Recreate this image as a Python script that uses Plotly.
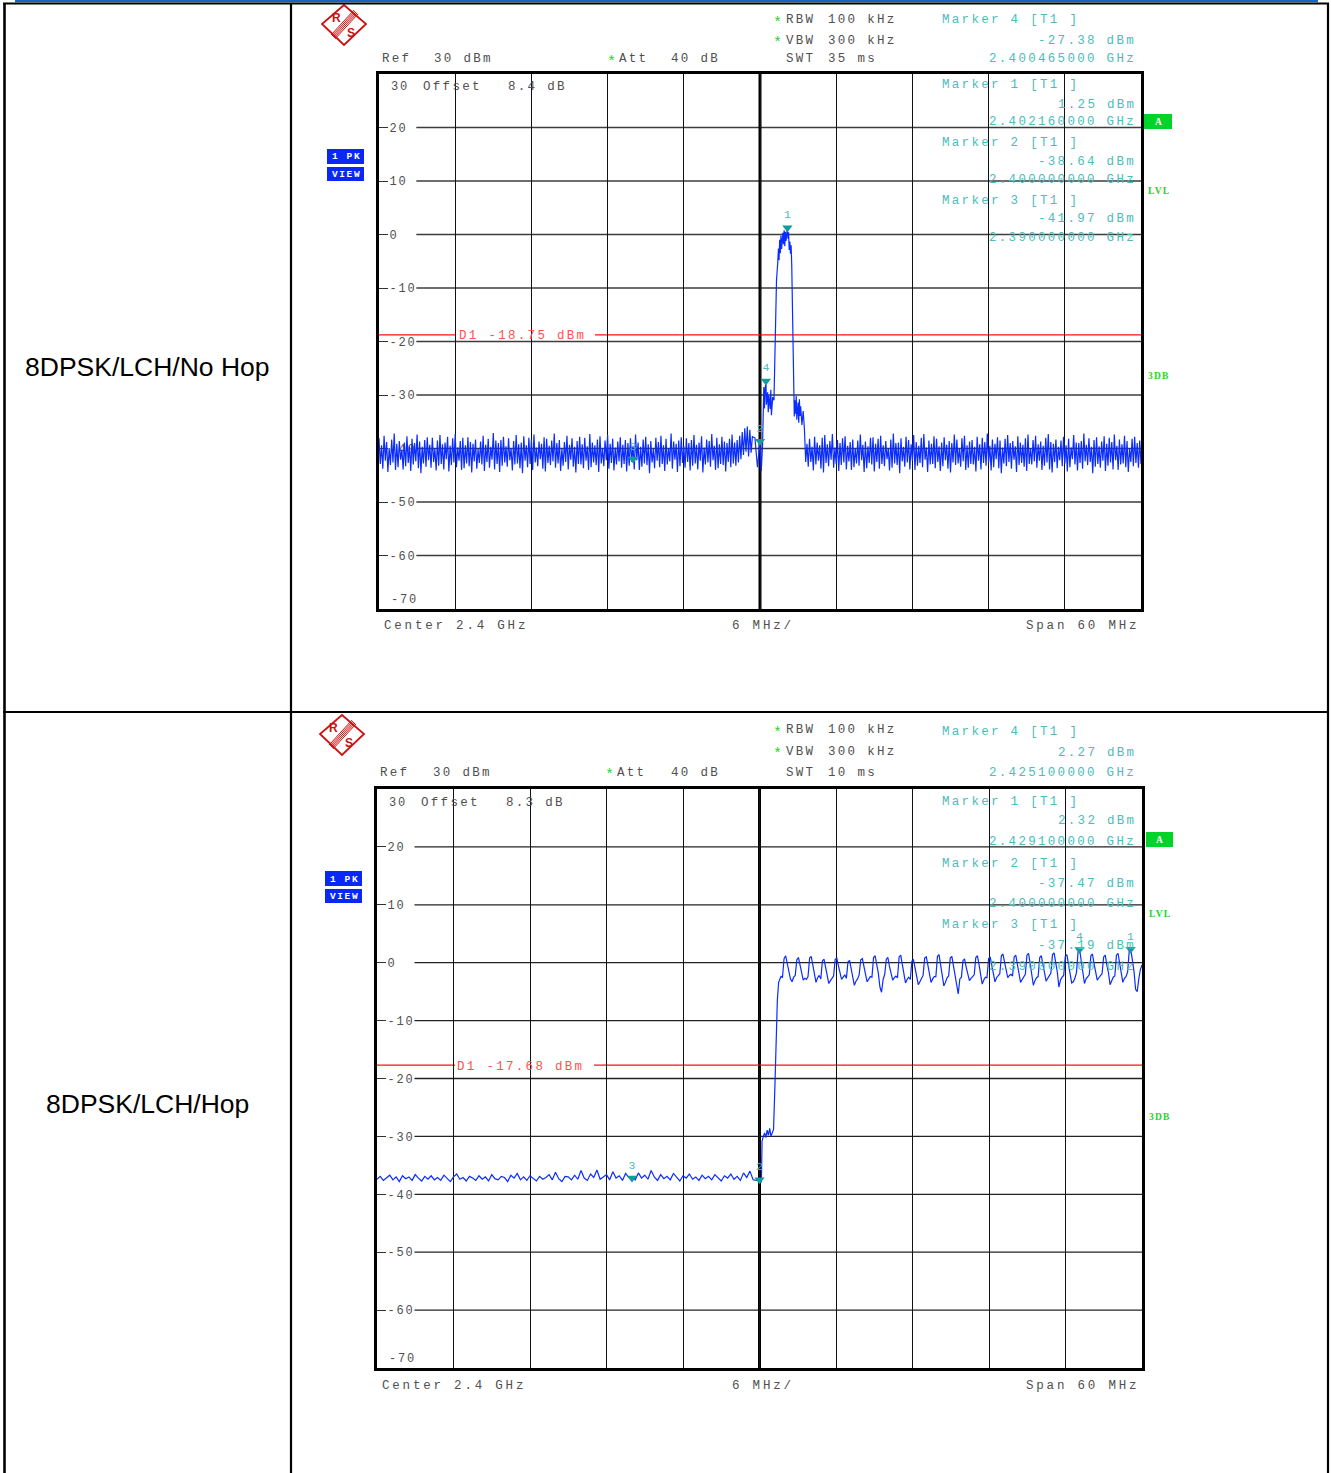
import numpy as np
import plotly.graph_objects as go

W, H = 1331, 1473
MONO = "Liberation Mono"
SANS = "Liberation Sans"
GRAY = "#505050"
TEAL = "#4cbcbc"
TEAL_MK = "#129c9c"
RED_T = "#ff5050"
GREEN = "#1fd41f"
TRACE = "#0a2cff"
NB = "\u00a0"

# ------------------------------------------------------------------ data
freq_span = [2.37, 2.43]          # GHz
level_span = [-70, 30]            # dBm
grid_levels = [20, 10, 0, -10, -20, -30, -40, -50, -60]
row_labels = ["8DPSK/LCH/No Hop", "8DPSK/LCH/Hop"]

# ---- panel 1 : No Hop
p1_left_f = [2.3700, 2.3994]
p1_left_v = [
    -38.1, -42.9, -39.4, -43.8, -37.6, -42.3, -38.8, -44.4, -39.9, -43.1, -38.3, -42.6, -37.2, -44.0, -39.1, -43.5, -38.6, -42.1, -40.2, -43.9,
    -38.9, -43.3, -37.7, -42.7, -39.6, -44.2, -38.2, -43.0, -39.0, -42.4, -37.4, -43.7, -38.7, -44.6, -39.7, -42.8, -38.4, -43.4, -37.9, -42.2,
    -39.3, -43.6, -38.0, -42.5, -40.0, -44.1, -38.5, -43.2, -37.5, -42.9, -39.2, -43.9, -38.9, -42.0, -37.8, -44.3, -39.5, -43.1, -38.1, -42.6,
    -37.3, -43.5, -39.8, -42.3, -38.6, -44.0, -38.0, -43.7, -39.4, -42.8, -37.9, -43.3, -38.8, -44.5, -39.1, -42.4, -38.3, -43.8, -40.1, -42.7,
    -38.7, -43.0, -37.6, -44.2, -39.3, -42.5, -38.2, -43.6, -39.7, -42.1, -37.1, -43.9, -38.5, -42.9, -39.0, -44.4, -38.4, -43.2, -37.8, -42.6,
    -39.6, -43.4, -38.1, -42.2, -39.9, -44.1, -38.6, -43.0, -37.5, -42.8, -39.2, -43.7, -38.9, -44.6, -37.7, -42.3, -39.4, -43.5, -38.0, -42.9,
    -38.3, -44.0, -37.4, -42.6, -39.8, -43.3, -38.7, -42.0, -39.1, -43.8, -37.9, -44.3, -38.2, -42.7, -39.5, -43.1, -38.5, -42.4, -37.2, -43.6,
    -39.0, -42.8, -38.4, -44.2, -40.0, -43.2, -38.8, -42.5, -37.6, -43.9, -39.3, -42.1, -38.1, -43.4, -39.7, -44.5, -38.6, -42.9, -37.8, -43.0,
    -39.2, -43.7, -38.0, -42.3, -39.6, -44.0, -37.3, -43.5, -38.9, -42.6, -39.4, -43.1, -38.3, -44.4, -37.7, -42.8, -39.9, -43.3, -38.5, -42.2,
    -37.5, -43.8, -39.1, -42.7, -38.2, -44.1, -39.8, -43.0, -38.7, -42.4, -37.9, -43.6, -39.3, -42.9, -38.4, -44.3, -39.0, -43.2, -38.1, -42.5,
    -39.5, -43.9, -37.4, -42.2, -38.9, -44.0, -39.7, -43.4, -38.3, -42.8, -37.8, -43.1, -39.2, -44.6, -38.6, -42.6, -40.1, -43.7, -38.0, -42.3,
    -38.8, -43.5, -37.6, -42.9, -39.4, -44.2, -38.2, -43.0, -39.9, -42.4, -37.2, -43.8, -38.7, -42.1, -39.1, -44.4, -38.5, -43.3, -37.9, -42.7,
    -39.6, -43.6, -38.1, -42.5, -39.0, -44.1, -38.4, -43.2, -37.5, -42.8, -39.3, -43.9, -38.9, -42.3, -37.7, -44.5, -39.8, -43.0, -38.3, -42.6,
    -38.6, -43.4, -37.3, -42.2, -39.5, -44.0, -38.0, -43.7, -39.2, -42.9, -37.8, -43.1, -38.7, -44.3, -39.0, -42.5, -38.2, -43.5, -37.4, -42.8,
    -38.9, -43.2, -38.4, -42.6, -37.6, -42.0, -36.9, -41.2, -36.2, -40.6, -35.9, -41.5, -36.5, -40.8, -37.8,
]
p1_signal = [
    (2.3996, -38.0), (2.3998, -43.5), (2.4000, -38.64), (2.4001, -44.2),
    (2.4002, -39.5), (2.4003, -28.5), (2.40035, -32.5), (2.4004, -29.0),
    (2.40047, -27.4), (2.4005, -31.8), (2.4006, -29.5), (2.40065, -33.2),
    (2.4007, -30.1), (2.4008, -32.6), (2.40085, -29.0), (2.4009, -33.8),
    (2.4010, -30.4), (2.4011, -31.0), (2.4012, -20.0), (2.4013, -8.5),
    (2.4014, -5.2), (2.40145, -2.6), (2.4015, -4.8), (2.40155, -1.0),
    (2.4016, -3.5), (2.40165, -0.2), (2.4017, -2.7), (2.4018, 0.3),
    (2.40185, -1.8), (2.4019, 0.8), (2.40195, -2.2), (2.4020, 0.5),
    (2.40205, -1.2), (2.40216, 1.25), (2.4022, -0.8), (2.40225, 0.4),
    (2.4023, -2.9), (2.40235, -1.3), (2.4024, -3.6), (2.40245, -2.0),
    (2.4025, -5.8), (2.4026, -22.0), (2.40265, -30.5), (2.4027, -34.0),
    (2.40275, -31.0), (2.4028, -33.5), (2.40285, -30.2), (2.4029, -34.6),
    (2.4030, -31.4), (2.40305, -35.2), (2.4031, -30.8), (2.40315, -33.9),
    (2.4032, -32.1), (2.4033, -35.6), (2.4034, -33.0), (2.4035, -36.5),
    (2.4036, -42.5),
]
p1_right_f = [2.4037, 2.4300]
p1_right_v = [
    -39.1, -43.4, -38.2, -42.5, -39.7, -44.1, -37.8, -43.0, -38.9, -42.3, -39.4, -43.8, -38.0, -44.5, -37.5, -42.7, -39.2, -43.3, -38.6, -42.1,
    -37.3, -43.6, -39.8, -42.9, -38.4, -44.2, -39.0, -43.1, -38.1, -42.6, -37.7, -43.9, -39.5, -42.4, -38.8, -44.0, -38.3, -43.5, -39.9, -42.8,
    -38.5, -43.2, -37.4, -42.2, -39.3, -44.4, -38.7, -43.7, -39.6, -42.7, -38.0, -43.0, -37.9, -44.3, -39.1, -42.5, -38.2, -43.8, -37.6, -42.9,
    -39.4, -43.3, -38.6, -42.0, -40.0, -44.1, -38.3, -43.6, -37.2, -42.8, -39.0, -43.1, -38.9, -44.6, -38.1, -42.4, -39.7, -43.4, -37.8, -42.6,
    -38.4, -43.9, -39.2, -42.3, -37.5, -44.0, -38.8, -43.2, -39.5, -42.7, -38.0, -43.5, -37.3, -42.1, -39.8, -44.4, -38.5, -43.0, -39.1, -42.9,
    -37.7, -43.7, -38.2, -42.5, -39.6, -44.2, -38.9, -43.3, -37.9, -42.2, -39.3, -43.8, -38.6, -44.5, -39.0, -42.6, -37.4, -43.1, -38.3, -42.8,
    -39.9, -43.4, -38.1, -42.4, -37.6, -44.0, -39.4, -43.6, -38.7, -42.9, -38.4, -43.0, -39.7, -44.3, -37.8, -42.3, -39.2, -43.9, -38.0, -42.7,
    -38.8, -43.2, -37.2, -42.6, -39.5, -44.1, -38.3, -43.5, -39.1, -42.0, -37.9, -43.7, -38.5, -44.6, -39.8, -42.8, -38.2, -43.3, -37.5, -42.5,
    -39.0, -43.8, -38.6, -42.1, -39.6, -44.4, -37.7, -43.1, -38.9, -42.7, -39.3, -43.4, -38.1, -44.2, -37.4, -42.9, -39.9, -43.0, -38.4, -42.4,
    -37.6, -43.6, -39.2, -42.3, -38.7, -44.0, -39.5, -43.2, -38.0, -42.6, -37.3, -43.9, -38.8, -44.5, -39.1, -42.5, -38.3, -43.7, -39.7, -42.2,
    -38.5, -43.3, -37.8, -42.8, -39.4, -44.3, -38.2, -43.5, -39.8, -42.0, -37.5, -43.0, -38.9, -44.1, -39.0, -42.7, -38.6, -43.8, -37.2, -42.4,
    -39.3, -43.1, -38.1, -42.5, -39.7, -44.6, -38.4, -43.4, -37.9, -42.9, -39.6, -43.6, -38.7, -42.3, -37.7, -44.2, -39.1, -43.2, -38.0, -42.6,
    -38.8, -43.9, -37.4, -42.2, -39.5, -44.0, -38.3, -43.0, -39.2, -42.8, -37.6, -43.5, -38.6, -44.4, -39.9, -42.5, -38.2, -43.3, -37.8, -42.7,
    -39.0, -43.6, -38.5, -42.9,
]
p1_marker_ids = ["4", "1", "2", "3"]
p1_marker_f = [2.400465, 2.402160, 2.400000, 2.390000]
p1_marker_v = [-27.38, 1.25, -38.64, -41.97]
p1_d1 = -18.75
p1_settings = {"ref": "30 dBm", "att": "40 dB", "rbw": "100 kHz", "vbw": "300 kHz",
               "swt": "35 ms", "offset": "8.4 dB"}

# ---- panel 2 : Hop
p2_left_f = [2.3700, 2.39975]
p2_left_v = [
    -37.4, -36.9, -37.6, -37.1, -36.7, -37.5, -37.0, -37.8, -36.8, -37.3,
    -37.0, -37.6, -36.6, -37.2, -37.7, -36.9, -37.4, -36.8, -37.5, -37.1,
    -37.6, -36.7, -37.3, -37.8, -37.0, -36.5, -37.4, -37.1, -37.7, -36.9,
    -37.2, -37.6, -36.8, -37.4, -37.0, -37.7, -36.6, -37.3, -37.5, -36.9,
    -37.1, -37.8, -36.7, -37.2, -36.4, -37.5, -37.0, -37.6, -36.8, -37.3,
    -37.7, -36.9, -37.4, -37.1, -36.6, -37.5, -36.2, -37.3, -37.8, -36.9,
    -37.0, -37.5, -36.7, -37.4, -35.9, -37.2, -37.6, -36.5, -37.1, -35.8,
    -37.4, -37.0, -36.6, -37.5, -36.1, -37.2, -36.8, -37.6, -36.4, -37.1,
    -36.9, -37.5, -36.3, -37.2, -36.7, -37.4, -35.9, -37.0, -37.6, -36.6,
    -37.3, -36.9, -37.5, -36.4, -37.1, -37.7, -36.8, -37.2, -36.5, -37.4,
    -37.0, -37.6, -36.7, -37.3, -36.9, -37.5, -36.6, -37.1, -37.7, -36.8,
    -37.2, -36.5, -37.4, -36.9, -37.6, -36.3, -37.1, -36.0, -37.5, -37.6,
]
p2_rise = [
    (2.4000, -37.47), (2.40015, -37.9), (2.4002, -30.8), (2.4003, -30.0),
    (2.4004, -29.4), (2.4005, -30.2), (2.4006, -28.9), (2.4007, -29.8),
    (2.4008, -28.6), (2.4009, -30.0), (2.4010, -29.2), (2.4011, -28.8),
    (2.4012, -22.0), (2.4013, -14.0), (2.4014, -6.5), (2.4015, -3.4),
    (2.4016, -2.9), (2.4017, -2.3),
]
p2_hop_f = [2.4018, 2.4300]
p2_hop_v = [
    -2.6, 0.7, 1.2, -0.3, -1.9, -2.8, -3.3, -2.5,
    -2.2, 0.5, 0.9, -0.6, -2.1, -3.0, -2.7, -2.9,
    -2.4, 0.8, 1.1, -0.2, -1.7, -3.4, -2.6, -2.2,
    -2.8, 0.3, 0.6, -0.9, -2.3, -3.6, -3.1, -2.6,
    -2.3, 0.6, 0.8, -0.5, -1.6, -2.9, -2.5, -2.1,
    -2.7, 0.1, 0.4, -1.1, -2.4, -3.9, -3.2, -2.8,
    -2.1, 0.5, 0.7, -0.4, -2.0, -3.3, -2.7, -2.4,
    -2.5, 0.9, 1.2, -0.1, -1.8, -4.2, -5.1, -2.9,
    -2.0, 0.6, 0.9, -0.7, -2.2, -3.0, -2.6, -2.3,
    -2.6, 1.0, 1.3, -0.3, -1.9, -3.5, -2.9, -2.5,
    -2.9, 0.3, 0.5, -1.0, -2.5, -3.8, -3.3, -2.7,
    -2.2, 0.8, 1.0, -0.4, -1.7, -3.4, -2.8, -2.4,
    -2.4, 1.1, 1.4, -0.2, -2.0, -4.0, -3.4, -2.6,
    -2.3, 0.8, 1.1, -0.6, -2.3, -3.6, -5.4, -2.8,
    -2.5, 0.4, 0.6, -0.8, -2.1, -3.1, -2.7, -2.3,
    -2.1, 0.9, 1.2, -0.3, -1.8, -3.7, -3.0, -2.5,
    -2.6, 0.7, 1.0, -0.5, -2.2, -3.3, -2.6, -2.2,
    -1.9, 1.2, 1.5, 0.1, -1.5, -2.6, -2.2, -2.0,
    -2.3, 1.0, 1.3, -0.4, -1.9, -3.4, -2.9, -2.4,
    -2.0, 1.3, 1.6, -0.1, -1.7, -3.9, -3.1, -2.6,
    -2.4, 0.9, 1.2, -0.5, -2.0, -3.2, -2.7, -2.3,
    -1.8, 1.4, 1.7, 0.0, -1.6, -4.2, -3.0, -2.5,
    -2.2, 1.1, 1.4, -0.3, -1.9, -3.5, -3.3, -2.7,
    -1.7, 1.9, 2.2, 0.4, -1.4, -3.6, -2.8, -2.4,
    -2.1, 1.2, 1.5, -0.2, -1.8, -3.0, -2.6, -2.2,
    -1.9, 1.0, 1.3, -0.4, -1.7, -3.8, -3.1, -2.5,
    -2.3, 1.3, 1.6, -0.1, -2.0, -3.4, -2.7, -2.4,
    -1.6, 2.0, 2.3, 0.3, -1.5, -4.6, -5.0, -2.8,
    -1.2, -0.4,
]
p2_marker_ids = ["4", "1", "2", "3"]
p2_marker_f = [2.425100, 2.429100, 2.400000, 2.390000]
p2_marker_v = [2.27, 2.32, -37.47, -37.19]
p2_d1 = -17.68
p2_settings = {"ref": "30 dBm", "att": "40 dB", "rbw": "100 kHz", "vbw": "300 kHz",
               "swt": "10 ms", "offset": "8.3 dB"}

# ------------------------------------------------------------------ layout helpers (pixel positions)
annotations, shapes = [], []
FS = 12.5   # screen font size
LS = 2.3    # letter spacing
DY = 1.5    # vertical nudge for screen texts


def X(px):
    return px / W


def Y(py):
    return 1 - py / H


def spaced(s, ls=LS):
    s = s.replace(" ", NB)
    return "<span style='letter-spacing:" + str(ls) + "px'>" + s + "</span>"


def txt(s, px, py, color=GRAY, anchor="left", size=FS, ls=LS, bold=False, family=MONO, dy=DY):
    t = spaced(s, ls) if ls else s.replace(" ", NB)
    if bold:
        t = "<b>" + t + "</b>"
    annotations.append(dict(x=X(px), y=Y(py + dy), xref="paper", yref="paper", text=t,
                            showarrow=False, xanchor=anchor, yanchor="middle",
                            borderpad=0, font=dict(family=family, size=size, color=color)))


def pline(x0, y0, x1, y1, color="black", width=2.0):
    shapes.append(dict(type="line", xref="paper", yref="paper", x0=X(x0), y0=Y(y0),
                       x1=X(x1), y1=Y(y1), line=dict(color=color, width=width), layer="above"))


def prect(x0, y0, x1, y1, fill):
    shapes.append(dict(type="rect", xref="paper", yref="paper", x0=X(x0), y0=Y(y0),
                       x1=X(x1), y1=Y(y1), fillcolor=fill, line=dict(width=0), layer="above"))


def logo(cx, cy):
    red = "#cc1111"
    pts = [(cx, cy - 20), (cx + 22, cy - 1), (cx, cy + 20), (cx - 22, cy - 1)]
    path = "M " + " L ".join(f"{X(a):.6f},{Y(b):.6f}" for a, b in pts) + " Z"
    shapes.append(dict(type="path", xref="paper", yref="paper", path=path,
                       line=dict(color=red, width=1.8), fillcolor="rgba(0,0,0,0)", layer="above"))
    nx, ny = 0.736, 0.677
    for k in (-2, -1, 0, 1, 2):
        ox, oy = k * 1.4 * nx, k * 1.4 * ny
        pline(cx + 12 + ox, cy - 13 + oy, cx - 11 + ox, cy + 12 + oy, red, 1.0)
    txt("R", cx - 8, cy - 7, red, "center", 12, 0, True, SANS, 0)
    txt("S", cx + 7, cy + 8, red, "center", 12, 0, True, SANS, 0)


panel_cfg = [
    dict(box=(379, 1141, 74, 609), rows=(19, 39, 58), ref_x=381, refv_x=433, attstar_x=606,
         att_x=618, attv_x=670, star_x=772, bw_x=785, bwv_x=827,
         mk_rows=[(19, 39, 58), (84, 103, 121), (141, 160, 179), (199, 218, 237)],
         off_y=85, off_x=422, offv_x=507, lab30_x=390, m70_y=598,
         bot_y=624, center_x=383, mhz_x=731, span_x=1025, d1_x=458,
         d1_gap=(0.0997, 0.2835), abox=(1144, 114, 1172, 129), lvl=(1159, 190),
         db3=(1159, 375), pk=(327, 149), logo=(344, 25)),
    dict(box=(377, 1142, 789, 1368), rows=(729, 750, 771), ref_x=379, refv_x=432, attstar_x=604,
         att_x=616, attv_x=670, star_x=772, bw_x=785, bwv_x=827,
         mk_rows=[(730, 751, 771), (800, 819, 840), (862, 882, 902), (923, 944, 965)],
         off_y=801, off_x=420, offv_x=505, lab30_x=388, m70_y=1357,
         bot_y=1384, center_x=381, mhz_x=731, span_x=1025, d1_x=456,
         d1_gap=(0.102, 0.2837), abox=(1146, 832, 1173, 847), lvl=(1160, 914),
         db3=(1160, 1116), pk=(325, 871), logo=(342, 735)),
]

fig = go.Figure()

panels = [
    dict(segs=[(p1_left_f, p1_left_v), p1_signal, (p1_right_f, p1_right_v)],
         ids=p1_marker_ids, mf=p1_marker_f, mv=p1_marker_v, d1=p1_d1, st=p1_settings, hgrid="#3c3c3c"),
    dict(segs=[(p2_left_f, p2_left_v), p2_rise, (p2_hop_f, p2_hop_v)],
         ids=p2_marker_ids, mf=p2_marker_f, mv=p2_marker_v, d1=p2_d1, st=p2_settings, hgrid="#222222"),
]

layout_axes = {}
for i, (pd_, cfg) in enumerate(zip(panels, panel_cfg)):
    n = i + 1
    xa, ya = ("x", "y") if n == 1 else ("x2", "y2")
    L, R, T, B = cfg["box"]

    fx, fy = [], []
    for seg in pd_["segs"]:
        if isinstance(seg, tuple):
            (f0, f1), vals = seg
            fx.extend(np.linspace(f0, f1, len(vals)))
            fy.extend(vals)
        else:
            fx.extend([p[0] for p in seg])
            fy.extend([p[1] for p in seg])
    fig.add_trace(go.Scatter(x=fx, y=fy, mode="lines", line=dict(color=TRACE, width=1.2),
                             xaxis=xa, yaxis=ya, hoverinfo="skip", showlegend=False))
    fig.add_trace(go.Scatter(x=pd_["mf"], y=pd_["mv"], mode="markers+text", text=pd_["ids"],
                             textposition="top center",
                             textfont=dict(family=MONO, size=11.5, color=TEAL),
                             marker=dict(symbol="triangle-down", size=9, color=TEAL_MK),
                             xaxis=xa, yaxis=ya, hoverinfo="skip", showlegend=False))

    ax_x = dict(domain=[X(L), X(R)], range=freq_span, dtick=0.006, tick0=2.37,
                showgrid=True, gridcolor="#111111", gridwidth=1.3, showticklabels=False,
                ticks="", zeroline=False, showline=True, mirror=True, linewidth=3,
                linecolor="black", anchor=ya, fixedrange=True)
    ax_y = dict(domain=[Y(B), Y(T)], range=level_span, showgrid=False, zeroline=False,
                tickvals=grid_levels, ticktext=[spaced(str(v), 1.8) for v in grid_levels],
                ticks="inside", ticklen=9, tickwidth=1.3, tickcolor="#333333",
                ticklabelposition="inside", ticklabelstandoff=1,
                tickfont=dict(family=MONO, size=12, color=GRAY),
                showline=True, mirror=True, linewidth=3, linecolor="black",
                layer="below traces", anchor=xa, fixedrange=True)
    layout_axes["xaxis" if n == 1 else "xaxis2"] = ax_x
    layout_axes["yaxis" if n == 1 else "yaxis2"] = ax_y

    xd = xa + " domain"
    for lv in grid_levels:
        shapes.append(dict(type="line", xref=xd, yref=ya, x0=0.049, x1=1, y0=lv, y1=lv,
                           line=dict(color=pd_["hgrid"], width=1.3), layer="below"))
    shapes.append(dict(type="line", xref=xa, yref=ya + " domain", x0=2.4, x1=2.4, y0=0, y1=1,
                       line=dict(color="black", width=3), layer="below"))
    g0, g1 = cfg["d1_gap"]
    for a, b in ((0, g0), (g1, 1)):
        shapes.append(dict(type="line", xref=xd, yref=ya, x0=a, x1=b, y0=pd_["d1"], y1=pd_["d1"],
                           line=dict(color="#ff1010", width=1.3), layer="below"))
    d1_py = T + (level_span[1] - pd_["d1"]) / (level_span[1] - level_span[0]) * (B - T)
    txt(f"D1 {pd_['d1']:.2f} dBm", cfg["d1_x"], d1_py, RED_T)

    st = pd_["st"]
    r1, r2, r3 = cfg["rows"]
    for ry in (r1, r2):
        txt("*", cfg["star_x"], ry + 3, GREEN, ls=0, size=15)
    txt("RBW", cfg["bw_x"], r1)
    txt(st["rbw"], cfg["bwv_x"], r1)
    txt("VBW", cfg["bw_x"], r2)
    txt(st["vbw"], cfg["bwv_x"], r2)
    txt("SWT", cfg["bw_x"], r3)
    txt(st["swt"], cfg["bwv_x"], r3)
    txt("Ref", cfg["ref_x"], r3)
    txt(st["ref"], cfg["refv_x"], r3)
    txt("*", cfg["attstar_x"], r3 + 3, GREEN, ls=0, size=15)
    txt("Att", cfg["att_x"], r3)
    txt(st["att"], cfg["attv_x"], r3)

    for (ya_, yb_, yc_), mid, mf, mv in zip(cfg["mk_rows"], pd_["ids"], pd_["mf"], pd_["mv"]):
        txt(f"Marker {mid} [T1 ]", 941, ya_, TEAL)
        txt(f"{mv:.2f} dBm", 1137, yb_, TEAL, anchor="right")
        txt(f"{mf:.9f} GHz", 1137, yc_, TEAL, anchor="right")

    txt("30", cfg["lab30_x"], cfg["off_y"], size=12, ls=1.8)
    txt("Offset", cfg["off_x"], cfg["off_y"])
    txt(st["offset"], cfg["offv_x"], cfg["off_y"])
    txt("-70", cfg["lab30_x"], cfg["m70_y"], size=12, ls=1.8)
    txt("Center 2.4 GHz", cfg["center_x"], cfg["bot_y"], ls=2.8)
    txt("6 MHz/", cfg["mhz_x"], cfg["bot_y"], ls=2.8)
    txt("Span 60 MHz", cfg["span_x"], cfg["bot_y"], ls=2.8)

    ax0, ay0, ax1, ay1 = cfg["abox"]
    prect(ax0, ay0, ax1, ay1, "#00d42a")
    txt("A", (ax0 + ax1) / 2, (ay0 + ay1) / 2, "white", "center", 9.5, 0, True, "Liberation Serif", 0.5)
    txt("LVL", cfg["lvl"][0], cfg["lvl"][1], GREEN, "center", 9.5, 1.2, True, "Liberation Serif", 0.5)
    txt("3DB", cfg["db3"][0], cfg["db3"][1], GREEN, "center", 9.5, 1.2, True, "Liberation Serif", 0.5)
    px0, py0 = cfg["pk"]
    prect(px0, py0, px0 + 37, py0 + 15, "#0a28f5")
    prect(px0, py0 + 18, px0 + 37, py0 + 32, "#0a28f5")
    txt("1 PK", px0 + 19, py0 + 7.5, "white", "center", 9.5, 1.6, True, MONO, 0.5)
    txt("VIEW", px0 + 19, py0 + 25, "white", "center", 9.5, 1.6, True, MONO, 0.5)
    logo(*cfg["logo"])

# ------------------------------------------------------------------ table frame
pline(15, 1, 1318, 1, "#1464c0", 2.6)
pline(3, 3.5, 1329, 3.5, "black", 2.2)
pline(4.5, 3, 4.5, 1473, "black", 2.6)
pline(1328, 3, 1328, 1473, "black", 2.2)
pline(291, 3, 291, 1473, "black", 2.2)
pline(3, 712, 1329, 712, "black", 2.2)
for lab, py in zip(row_labels, (367, 1104)):
    txt(lab, 147, py, "black", "center", 26.5, 0, False, SANS, 0)

fig.update_layout(
    width=W, height=H, margin=dict(l=0, r=0, t=0, b=0, autoexpand=False),
    paper_bgcolor="white", plot_bgcolor="white", showlegend=False, hovermode=False,
    annotations=annotations, shapes=shapes, **layout_axes,
)
fig.write_html("out.html", config={"displayModeBar": False},
               post_script="document.body.style.margin='0px';")
